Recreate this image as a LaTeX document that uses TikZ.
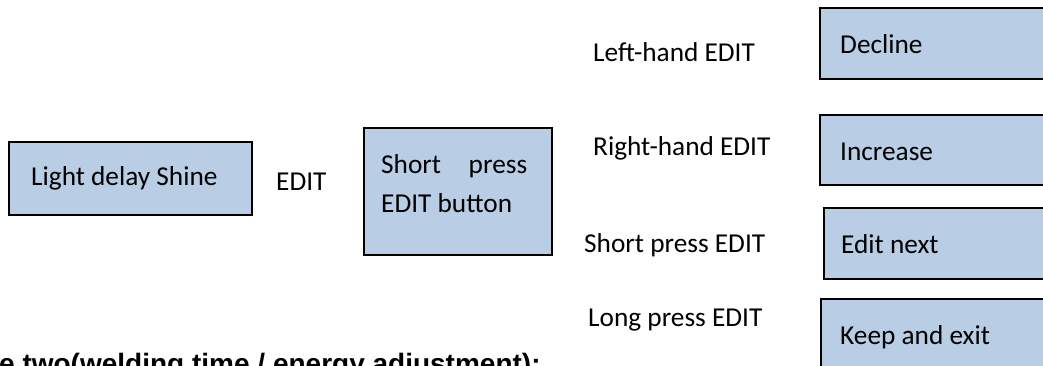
\documentclass[tikz,border=0pt]{standalone}
\usepackage{fontspec}
\setmainfont{Carlito}
\newfontfamily\headfont{Liberation Sans}
\definecolor{boxblue}{HTML}{B9CDE5}
\begin{document}
\begin{tikzpicture}[x=1pt,y=-1pt,
  box/.style={draw=black, line width=1.6pt, fill=boxblue, inner sep=0pt, anchor=north west},
  txt/.style={inner sep=0pt, anchor=base west, font=\fontsize{27.3}{32}\selectfont},
  head/.style={inner sep=0pt, anchor=base west, font=\headfont\bfseries\fontsize{28}{32}\selectfont}]
\clip (0,0) rectangle (1043,365);
\useasboundingbox (0,0) rectangle (1043,365);
% boxes
\node[box, minimum width=243pt, minimum height=73pt] (ld) at (8,141) {};
\node[box, minimum width=188pt, minimum height=127pt] (sp) at (363,127) {};
\node[box, minimum width=240pt, minimum height=71pt] (dec) at (819,7) {};
\node[box, minimum width=240pt, minimum height=70pt] (inc) at (819,114) {};
\node[box, minimum width=240pt, minimum height=71pt] (nxt) at (823,207) {};
\node[box, minimum width=240pt, minimum height=76pt] (kpx) at (820,298) {};
% box texts
\node[txt] (ldt) at (31,185) {Light delay Shine};
\node[txt] (spt1) at (381,173) {\makebox[146pt][s]{Short\hfill press}};
\node[txt] (spt2) at (381,212) {EDIT button};
\node[txt] (dect) at (840,53) {Decline};
\node[txt] (inct) at (840,160) {Increase};
\node[txt] (nxtt) at (841,253) {Edit next};
\node[txt] (kpxt) at (840,344) {Keep and exit};
% labels
\node[txt] (edit) at (276,190) {EDIT};
\node[txt] (lh) at (593,61) {Left-hand EDIT};
\node[txt] (rh) at (593,155) {Right-hand EDIT};
\node[txt] (spe) at (584,252) {Short press EDIT};
\node[txt] (lpe) at (588,326) {Long press EDIT};
% cut-off heading (cut off at the bottom edge, as in the reference)
\node[head] (mode) at (-1,373) {e two(welding time / energy adjustment):};
\end{tikzpicture}
\end{document}
